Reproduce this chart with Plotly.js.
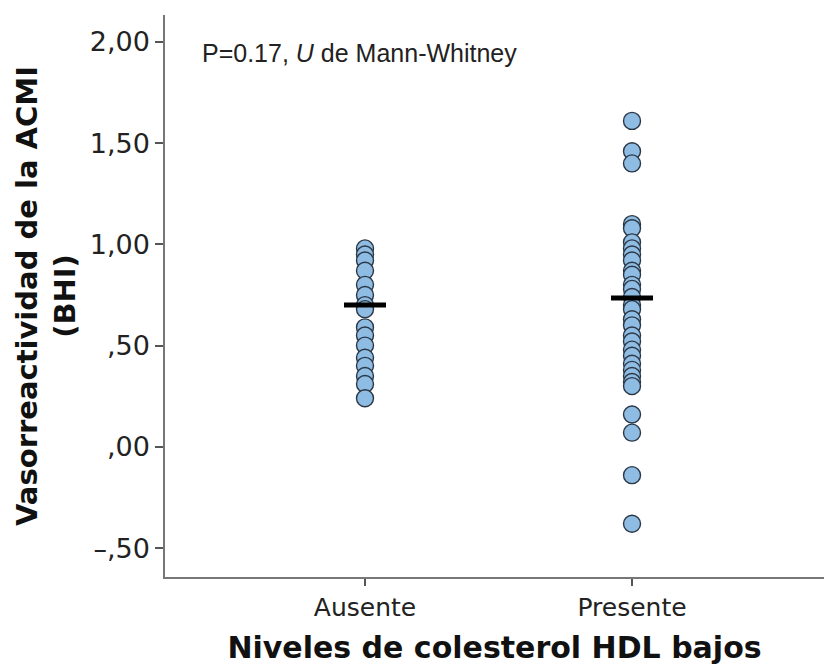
<!DOCTYPE html>
<html><head><meta charset="utf-8">
<script src="https://cdn.plot.ly/plotly-3.0.1.min.js"></script>
<style>html,body{margin:0;padding:0;background:#fff;}</style>
</head><body>
<div id="chart" style="width:824px;height:670px;"></div>
<script>
const categories = ["Ausente", "Presente"];
const ausenteValues = [0.98, 0.95, 0.92, 0.87, 0.80, 0.75, 0.70, 0.68, 0.59, 0.55, 0.50, 0.44, 0.40, 0.35, 0.31, 0.24];
const presenteValues = [1.61, 1.46, 1.40, 1.10, 1.08, 1.01, 0.98, 0.95, 0.92, 0.87, 0.85, 0.80, 0.78, 0.74, 0.70, 0.68, 0.63, 0.60, 0.55, 0.52, 0.48, 0.45, 0.41, 0.38, 0.35, 0.32, 0.30, 0.16, 0.07, -0.14, -0.38];
const centerLines = [0.70, 0.735];
const yTickVals = [2.0, 1.5, 1.0, 0.5, 0.0, -0.5];
const yTickText = ["2,00", "1,50", "1,00", ",50", ",00", "\u2013,50"];

const markerStyle = {size: 17, color: "#8fbce3", line: {color: "#2a3746", width: 1.4}};
const traces = [
  {type: "scatter", mode: "markers", x: ausenteValues.map(() => categories[0]), y: ausenteValues, marker: markerStyle, hoverinfo: "y"},
  {type: "scatter", mode: "markers", x: presenteValues.map(() => categories[1]), y: presenteValues, marker: markerStyle, hoverinfo: "y"},
  {type: "scatter", mode: "markers", x: categories, y: centerLines,
   marker: {symbol: "line-ew-open", size: 30, color: "#000", line: {color: "#000", width: 5}}, hoverinfo: "y"}
];

const layout = {
  width: 824, height: 670,
  margin: {l: 165, r: 0, t: 15, b: 93},
  paper_bgcolor: "#fff", plot_bgcolor: "#fff",
  showlegend: false,
  font: {family: "DejaVu Sans", color: "#222"},
  xaxis: {
    type: "category", categoryorder: "array", categoryarray: categories,
    range: [-0.749, 1.719],
    showline: true, linecolor: "#777", linewidth: 1.5,
    ticks: "outside", ticklen: 7, tickcolor: "#555", tickwidth: 1.5,
    showgrid: false, zeroline: false,
    tickfont: {family: "DejaVu Sans", size: 25, color: "#222"},
    title: {text: "Niveles de colesterol HDL bajos", font: {family: "DejaVu Sans", size: 30, color: "#111", weight: "bold"}, standoff: 16}
  },
  yaxis: {
    range: [-0.643, 2.133],
    tickvals: yTickVals, ticktext: yTickText,
    showline: true, linecolor: "#777", linewidth: 1.5,
    ticks: "outside", ticklen: 8, tickcolor: "#555", tickwidth: 1.5,
    showgrid: false, zeroline: false,
    tickfont: {family: "DejaVu Sans", size: 27, color: "#222"},
    title: {text: "<b>Vasorreactividad de la ACMI<br>(BHI)</b>", font: {family: "DejaVu Sans", size: 29, color: "#111"}, standoff: 6}
  },
  annotations: [{
    xref: "paper", yref: "paper", x: 0.053, y: 0.932, xanchor: "left", yanchor: "middle",
    text: "P=0.17, <i>U</i> de Mann-Whitney", showarrow: false,
    font: {family: "Liberation Sans", size: 25, color: "#222"}
  }]
};
Plotly.newPlot("chart", traces, layout, {displayModeBar: false});
</script>
</body></html>
